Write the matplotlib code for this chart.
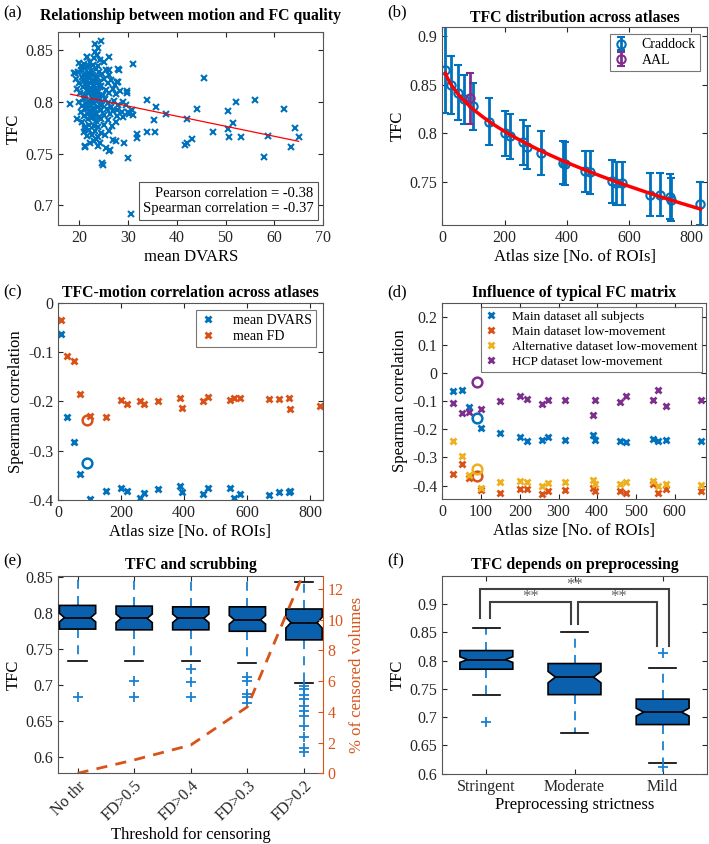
import numpy as np
import matplotlib
matplotlib.use("Agg")
import matplotlib.pyplot as plt
from matplotlib.patches import Polygon
from matplotlib.ticker import FuncFormatter

plt.rcParams['font.family'] = ['Liberation Serif', 'DejaVu Serif']
plt.rcParams['axes.unicode_minus'] = False

BLUE = '#0072BD'
ORANGE = '#D95319'
YELLOW = '#EDB120'
PURPLE = '#7E2F8E'
BOXBLUE = '#0b60ad'
WHISK = '#1a80d0'
GRAY = '#262626'

# ---------------- data ----------------
# (a) mean DVARS vs TFC, one point per subject
dvars_a = [45.5, 37.8, 42.2, 44.2, 41.6, 42.1, 43.1, 47.4, 50.6, 52.1, 50.5, 51.5, 50.8, 53.2, 56.1,
           58.7, 57.9, 61.9, 64.3, 65.0, 63.4,
           31.1, 33.8, 35.7, 35.3, 33.8, 35.5, 31.8, 31.9, 30.1, 30.6, 31.0, 30.9, 29.7, 28.0, 27.9,
           27.7, 27.7, 27.6, 29.2, 29.7, 30.0, 29.0, 28.9, 29.5, 30.3,
           18.2, 19.1, 19.5, 21.2, 20.0, 23.2, 24.4, 23.8, 23.7, 21.6, 26.1, 18.9, 28.1, 26.0, 27.8,
           21.5, 22.3, 23.0, 23.7, 22.8, 24.3, 21.0, 20.3, 25.0, 23.3,
           19.8, 20.6, 21.2, 21.8, 22.4, 22.9, 23.5, 24.1, 24.7, 25.4, 26.2, 20.9, 22.1, 23.9,
           19.3, 20.0, 20.5, 21.0, 21.4, 21.9, 22.3, 22.7, 23.1, 23.6, 24.0, 24.5, 25.1, 25.8, 26.6,
           27.3, 21.6, 23.3,
           19.6, 20.2, 20.7, 21.1, 21.5, 22.0, 22.4, 22.8, 23.2, 23.8, 24.3, 24.8, 25.5, 26.1, 26.9,
           27.6, 28.4, 21.8, 23.5,
           20.0, 20.5, 21.0, 21.4, 21.9, 22.3, 22.7, 23.1, 23.6, 24.1, 24.6, 25.2, 25.9, 26.5, 27.2,
           28.0, 22.5, 24.0,
           20.3, 20.9, 21.3, 21.8, 22.2, 22.6, 23.0, 23.5, 24.0, 24.4, 25.0, 25.7, 26.3, 27.0, 27.8,
           28.8, 21.6, 23.3,
           20.6, 21.2, 21.7, 22.1, 22.5, 23.0, 23.4, 23.9, 24.5, 25.1, 25.8, 26.7, 27.5, 22.8,
           20.9, 21.5, 22.0, 22.6, 23.2, 23.8, 24.4, 25.2, 26.0, 21.1,
           21.2, 23.0, 23.8, 23.5, 24.3, 25.5, 26.4, 26.9, 22.2,
           24.7, 24.8, 26.1, 22.0, 22.6, 21.3, 22.9, 23.4, 24.2]
tfc_a = [0.823, 0.788, 0.783, 0.793, 0.758, 0.760, 0.764, 0.771, 0.791, 0.800, 0.774, 0.779, 0.766, 0.766, 0.802,
         0.767, 0.747, 0.793, 0.775, 0.766, 0.756,
         0.836, 0.802, 0.795, 0.782, 0.771, 0.771, 0.769, 0.765, 0.746, 0.692, 0.787, 0.792, 0.810, 0.832, 0.819,
         0.819, 0.792, 0.762, 0.760, 0.808, 0.790, 0.785, 0.800, 0.797, 0.788,
         0.798, 0.828, 0.783, 0.756, 0.837, 0.856, 0.859, 0.852, 0.845, 0.843, 0.843, 0.828, 0.831, 0.831, 0.819,
         0.843, 0.838, 0.842, 0.845, 0.835, 0.840, 0.836, 0.834, 0.838, 0.848,
         0.829, 0.831, 0.833, 0.828, 0.830, 0.826, 0.832, 0.829, 0.827, 0.831, 0.826, 0.826, 0.834, 0.834,
         0.822, 0.818, 0.824, 0.820, 0.816, 0.823, 0.818, 0.821, 0.816, 0.824, 0.819, 0.815, 0.822, 0.818, 0.821,
         0.816, 0.825, 0.820,
         0.812, 0.808, 0.814, 0.806, 0.811, 0.808, 0.813, 0.807, 0.812, 0.809, 0.814, 0.806, 0.811, 0.808, 0.812,
         0.807, 0.810, 0.815, 0.805,
         0.800, 0.796, 0.803, 0.798, 0.801, 0.796, 0.804, 0.799, 0.795, 0.802, 0.797, 0.803, 0.799, 0.795, 0.801,
         0.797, 0.800, 0.805,
         0.790, 0.786, 0.793, 0.788, 0.791, 0.786, 0.794, 0.789, 0.785, 0.792, 0.787, 0.793, 0.788, 0.791, 0.786,
         0.790, 0.795, 0.787,
         0.780, 0.776, 0.783, 0.778, 0.784, 0.777, 0.781, 0.776, 0.783, 0.778, 0.782, 0.777, 0.780, 0.786,
         0.771, 0.767, 0.773, 0.768, 0.772, 0.766, 0.770, 0.768, 0.772, 0.774,
         0.757, 0.762, 0.757, 0.764, 0.760, 0.755, 0.753, 0.763, 0.760,
         0.741, 0.739, 0.752, 0.826, 0.812, 0.818, 0.792, 0.809, 0.797]

# (b) TFC per atlas (mean +/- std)
atlas_b = [10, 28, 50, 70, 100, 150, 200, 218, 258, 272, 318, 388, 393, 460, 475, 544, 558, 578,
           668, 700, 732, 736, 830]
tfc_mean = [0.865, 0.850, 0.842, 0.835, 0.828, 0.812, 0.800, 0.797, 0.791, 0.786, 0.780, 0.770, 0.769,
            0.761, 0.760, 0.751, 0.749, 0.749, 0.737, 0.737, 0.735, 0.732, 0.728]
tfc_std = [0.044, 0.030, 0.028, 0.025, 0.024, 0.024, 0.023, 0.023, 0.023, 0.022, 0.023, 0.022, 0.022,
           0.021, 0.022, 0.022, 0.022, 0.022, 0.022, 0.022, 0.023, 0.022, 0.022]
aal_size = 90
aal_mean = 0.836
aal_std = 0.026

# (c) TFC-motion correlation across atlases
atlas_c = atlas_b
corr_dvars = [-0.064, -0.231, -0.283, -0.347, -0.398, -0.381, -0.375, -0.382, -0.396, -0.386, -0.378,
              -0.372, -0.384, -0.388, -0.375, -0.376, -0.395, -0.388, -0.390, -0.383, -0.383, -0.381, np.nan]
corr_fd = [-0.035, -0.108, -0.118, -0.185, -0.230, -0.231, -0.197, -0.206, -0.200, -0.205, -0.200,
           -0.193, -0.213, -0.199, -0.191, -0.197, -0.194, -0.194, -0.195, -0.195, -0.193, -0.216, -0.209]
aal_dvars = -0.326
aal_fd = -0.238

# (d) influence of typical FC matrix
atlas_d = [28, 50, 70, 100, 150, 200, 218, 258, 272, 318, 388, 393, 460, 475, 544, 558, 578, 668]
main_all = [-0.065, -0.062, -0.121, -0.195, -0.213, -0.229, -0.243, -0.239, -0.229, -0.239, -0.221,
            -0.237, -0.243, -0.246, -0.234, -0.243, -0.237, -0.243]
main_low = [-0.359, -0.323, -0.375, -0.417, -0.428, -0.411, -0.411, -0.429, -0.421, -0.417, -0.408,
            -0.421, -0.418, -0.426, -0.396, -0.428, -0.414, -0.420]
alt_low = [-0.243, -0.296, -0.361, -0.408, -0.387, -0.383, -0.386, -0.400, -0.390, -0.387, -0.381,
           -0.393, -0.393, -0.387, -0.385, -0.402, -0.393, -0.399]
hcp_low = [-0.107, -0.142, -0.140, -0.127, -0.101, -0.081, -0.093, -0.110, -0.095, -0.095, -0.148,
           -0.095, -0.103, -0.083, -0.095, -0.059, -0.116, -0.095]
aal_d = [-0.160, -0.367, -0.341, -0.032]

# (e) scrubbing
thr_labels = ['No thr', 'FD>0.5', 'FD>0.4', 'FD>0.3', 'FD>0.2']
e_med = [0.794, 0.793, 0.793, 0.791, 0.787]
e_q1 = [0.778, 0.777, 0.777, 0.775, 0.763]
e_q3 = [0.811, 0.810, 0.809, 0.809, 0.806]
e_lo = [0.733, 0.733, 0.734, 0.731, 0.703]
e_hi = [0.8515, 0.8515, 0.8515, 0.8515, 0.844]
e_notch = [0.006, 0.006, 0.006, 0.006, 0.0075]
e_fliers = [[0.683],
            [0.706, 0.683],
            [0.722, 0.704, 0.683],
            [0.711, 0.706, 0.687, 0.683, 0.675],
            [0.698, 0.694, 0.686, 0.680, 0.671, 0.664, 0.657, 0.643, 0.628, 0.612, 0.607]]
censored_pct = [0.0, 0.87, 1.84, 4.33, 13.1]

# (f) preprocessing
prep_labels = ['Stringent', 'Moderate', 'Mild']
f_med = [0.802, 0.771, 0.709]
f_q1 = [0.785, 0.740, 0.687]
f_q3 = [0.818, 0.795, 0.732]
f_lo = [0.739, 0.672, 0.619]
f_hi = [0.858, 0.850, 0.787]
f_notch = [0.005, 0.010, 0.007]
f_fliers = [[0.692], [], [0.814, 0.612]]

# ---------------- helpers ----------------
fmt = FuncFormatter(lambda v, p: '%g' % round(v, 6))
TICK = 11.5
LAB = 12
TITLE = 11.3


def style(ax, right=True):
    ax.tick_params(direction='in', length=3.5, top=True, right=right, labelsize=TICK,
                   colors=GRAY, width=0.8)
    for s in ax.spines.values():
        s.set_color('#555555')
        s.set_linewidth(0.8)
    ax.yaxis.set_major_formatter(fmt)


def boxes(ax, med, q1, q3, lo, hi, notch, fliers, width):
    stats = []
    for i in range(len(med)):
        stats.append(dict(med=med[i], q1=q1[i], q3=q3[i], whislo=lo[i], whishi=hi[i],
                          fliers=fliers[i]))
    ax.bxp(stats, positions=range(1, len(med) + 1), widths=width, showbox=False,
           capwidths=width * 0.5,
           medianprops=dict(linewidth=0),
           whiskerprops=dict(color=WHISK, linestyle=(0, (5, 4)), linewidth=1.3),
           capprops=dict(color='black', linewidth=1.2),
           flierprops=dict(marker='+', markeredgecolor=WHISK, markersize=7, markeredgewidth=1.3))
    # notched boxes in the MATLAB look (shallow notch)
    for i in range(len(med)):
        p = i + 1
        l, r = p - width / 2, p + width / 2
        ind = width * 0.14
        lo_n, hi_n = med[i] - notch[i], med[i] + notch[i]
        verts = [(l, q1[i]), (r, q1[i]), (r, lo_n), (r - ind, med[i]), (r, hi_n), (r, q3[i]),
                 (l, q3[i]), (l, hi_n), (l + ind, med[i]), (l, lo_n)]
        ax.add_patch(Polygon(verts, closed=True, fc=BOXBLUE, ec='black', lw=1.2, zorder=3))
        ax.plot([l + ind, r - ind], [med[i], med[i]], color='black', lw=1.2, zorder=4)


fig = plt.figure(figsize=(7.09, 8.44), dpi=100)
W, H = 709, 844


def add_axes(l, r, t, b):
    return fig.add_axes([l / W, 1 - b / H, (r - l) / W, (b - t) / H])


ax_a = add_axes(58.3, 323, 32.3, 225)
ax_b = add_axes(442.3, 706.7, 27.3, 225)
ax_c = add_axes(58.3, 322.7, 302.7, 500)
ax_d = add_axes(442.3, 705.7, 302.7, 499.3)
ax_e = add_axes(58.3, 322.7, 576, 773.3)
ax_f = add_axes(442.3, 706.7, 576, 773.7)

# (a)
ax_a.plot(dvars_a, tfc_a, 'x', color=BLUE, ms=5, mew=1.5)
k, c0 = np.polyfit(dvars_a, tfc_a, 1)
xl = np.array([min(dvars_a), max(dvars_a)])
ax_a.plot(xl, k * xl + c0, color='red', lw=0.9)
ax_a.set_xlim(15.7, 70)
ax_a.set_ylim(0.681, 0.867)
ax_a.set_xticks([20, 30, 40, 50, 60, 70])
ax_a.set_yticks([0.7, 0.75, 0.8, 0.85])
ax_a.set_xlabel('mean DVARS', fontsize=LAB, labelpad=2)
ax_a.set_ylabel('TFC', fontsize=LAB, labelpad=3)
ax_a.set_title('Relationship between motion and FC quality', fontsize=TITLE, fontweight='bold', pad=9)
ax_a.text(0.965, 0.05, 'Pearson correlation = -0.38\nSpearman correlation = -0.37', transform=ax_a.transAxes,
          ha='right', va='bottom', fontsize=10.5, linespacing=1.25,
          bbox=dict(boxstyle='square,pad=0.3', fc='white', ec='#555555', lw=0.8))
style(ax_a)

# (b)
ax_b.errorbar(atlas_b, tfc_mean, yerr=tfc_std, fmt='o', color=BLUE, mfc='none', ms=6, mew=1.5,
              elinewidth=2, capsize=3, capthick=2, label='Craddock')
ax_b.errorbar([aal_size], [aal_mean], yerr=[aal_std], fmt='o', color=PURPLE, mfc='none', ms=6, mew=1.5,
              elinewidth=2, capsize=3, capthick=2, label='AAL')
pf = np.polyfit(np.sqrt(atlas_b), tfc_mean, 1)
xs = np.linspace(min(atlas_b), max(atlas_b), 200)
ax_b.plot(xs, np.polyval(pf, np.sqrt(xs)), color='red', lw=2.5, zorder=5)
ax_b.set_xlim(0, 850)
ax_b.set_ylim(0.706, 0.909)
ax_b.set_xticks([0, 200, 400, 600, 800])
ax_b.set_yticks([0.75, 0.8, 0.85, 0.9])
ax_b.set_xlabel('Atlas size [No. of ROIs]', fontsize=LAB, labelpad=2)
ax_b.set_ylabel('TFC', fontsize=LAB, labelpad=3)
ax_b.set_title('TFC distribution across atlases', fontsize=TITLE, fontweight='bold', pad=4)
leg = ax_b.legend(loc='upper right', fontsize=10, fancybox=False, edgecolor='#555555',
                  handlelength=1.0, handletextpad=1.0, borderpad=0.3, labelspacing=0.2, borderaxespad=0.5)
leg.get_frame().set_linewidth(0.8)
style(ax_b)

# (c)
ax_c.plot(atlas_c, corr_dvars, 'x', color=BLUE, ms=5, mew=2, label='mean DVARS')
ax_c.plot(atlas_c, corr_fd, 'x', color=ORANGE, ms=5, mew=2, label='mean FD')
ax_c.plot([aal_size], [aal_dvars], 'o', color=BLUE, mfc='none', ms=7, mew=1.8)
ax_c.plot([aal_size], [aal_fd], 'o', color=ORANGE, mfc='none', ms=7, mew=1.8)
ax_c.set_xlim(0, 840)
ax_c.set_ylim(-0.4, 0)
ax_c.set_xticks([0, 200, 400, 600, 800])
ax_c.set_yticks([-0.4, -0.3, -0.2, -0.1, 0])
ax_c.set_xlabel('Atlas size [No. of ROIs]', fontsize=LAB, labelpad=2)
ax_c.set_ylabel('Spearman correlation', fontsize=LAB, labelpad=3)
ax_c.set_title('TFC-motion correlation across atlases', fontsize=TITLE, fontweight='bold', pad=4)
leg = ax_c.legend(loc='upper right', fontsize=10, fancybox=False, edgecolor='#555555',
                  handlelength=1.0, handletextpad=1.3, borderpad=0.3, labelspacing=0.2, borderaxespad=0.5)
leg.get_frame().set_linewidth(0.8)
style(ax_c)

# (d)
d_series = [(main_all, BLUE, 'Main dataset all subjects'),
            (main_low, ORANGE, 'Main dataset low-movement'),
            (alt_low, YELLOW, 'Alternative dataset low-movement'),
            (hcp_low, PURPLE, 'HCP dataset low-movement')]
for (vals, col, lab), av in zip(d_series, aal_d):
    ax_d.plot(atlas_d, vals, 'x', color=col, ms=5, mew=2, label=lab)
    ax_d.plot([aal_size], [av], 'o', color=col, mfc='none', ms=7, mew=1.8)
ax_d.set_xlim(0, 680)
ax_d.set_ylim(-0.449, 0.25)
ax_d.set_xticks([0, 100, 200, 300, 400, 500, 600])
ax_d.set_yticks([-0.4, -0.3, -0.2, -0.1, 0, 0.1, 0.2])
ax_d.set_xlabel('Atlas size [No. of ROIs]', fontsize=LAB, labelpad=2)
ax_d.set_ylabel('Spearman correlation', fontsize=LAB, labelpad=3)
ax_d.set_title('Influence of typical FC matrix', fontsize=TITLE, fontweight='bold', pad=4)
leg = ax_d.legend(loc='upper right', fontsize=9.6, fancybox=False, edgecolor='#555555',
                  handlelength=0.8, handletextpad=1.2, borderpad=0.3, labelspacing=0.2, borderaxespad=0.3)
leg.get_frame().set_linewidth(0.8)
style(ax_d)

# (e)
boxes(ax_e, e_med, e_q1, e_q3, e_lo, e_hi, e_notch, e_fliers, 0.64)
ax_e.set_xlim(0.66, 5.33)
ax_e.set_ylim(0.577, 0.852)
ax_e.set_yticks([0.6, 0.65, 0.7, 0.75, 0.8, 0.85])
ax_e.set_xticks(range(1, 6))
ax_e.set_xticklabels(thr_labels, rotation=45, ha='right', rotation_mode='anchor')
ax_e.set_xlabel('Threshold for censoring', fontsize=LAB, labelpad=2)
ax_e.set_ylabel('TFC', fontsize=LAB, labelpad=3)
ax_e.set_title('TFC and scrubbing', fontsize=TITLE, fontweight='bold', pad=5)
style(ax_e, right=False)
ax_e2 = ax_e.twinx()
ax_e2.plot(range(1, 6), censored_pct, '--', color=ORANGE, lw=2, dashes=(4, 3))
ax_e2.set_ylim(0, 12.85)
ax_e2.set_yticks([0, 2, 4, 6, 8, 10, 12])
ax_e2.tick_params(direction='in', length=3.5, labelsize=TICK, colors=ORANGE, width=0.8)
for s in ax_e2.spines.values():
    s.set_visible(False)
ax_e2.spines['right'].set_visible(True)
ax_e2.spines['right'].set_color(ORANGE)
ax_e2.set_ylabel('% of censored volumes', fontsize=LAB, color=ORANGE, labelpad=4)
ax_e.spines['right'].set_visible(False)

# (f)
boxes(ax_f, f_med, f_q1, f_q3, f_lo, f_hi, f_notch, f_fliers, 0.6)
ax_f.set_xlim(0.5, 3.5)
ax_f.set_ylim(0.6, 0.95)
ax_f.set_yticks([0.6, 0.65, 0.7, 0.75, 0.8, 0.85, 0.9])
ax_f.set_xticks([1, 2, 3])
ax_f.set_xticklabels(prep_labels)
ax_f.set_xlabel('Preprocessing strictness', fontsize=LAB, labelpad=2)
ax_f.set_ylabel('TFC', fontsize=LAB, labelpad=3)
ax_f.set_title('TFC depends on preprocessing', fontsize=TITLE, fontweight='bold', pad=5)
bk = dict(color='#404040', lw=1.5, solid_joinstyle='miter')
ax_f.plot([0.93, 0.93, 3.07, 3.07], [0.875, 0.9265, 0.9265, 0.826], **bk)
ax_f.plot([1.04, 1.04, 1.956, 1.956], [0.875, 0.9035, 0.9035, 0.865], **bk)
ax_f.plot([2.04, 2.04, 2.94, 2.94], [0.865, 0.9035, 0.9035, 0.826], **bk)
for xs_, ys_ in [(2.0, 0.934), (1.5, 0.912), (2.5, 0.912)]:
    ax_f.text(xs_, ys_, '**', ha='center', va='center', fontsize=12, color='#606060')
style(ax_f)

# panel letters
for lab, x, y in [('(a)', 3, 13), ('(b)', 387, 12), ('(c)', 3, 292), ('(d)', 387, 292),
                  ('(e)', 3, 561), ('(f)', 387, 561)]:
    fig.text(x / W, 1 - y / H, lab, fontsize=12, va='center', ha='left')

fig.savefig('out.png', dpi=100)
